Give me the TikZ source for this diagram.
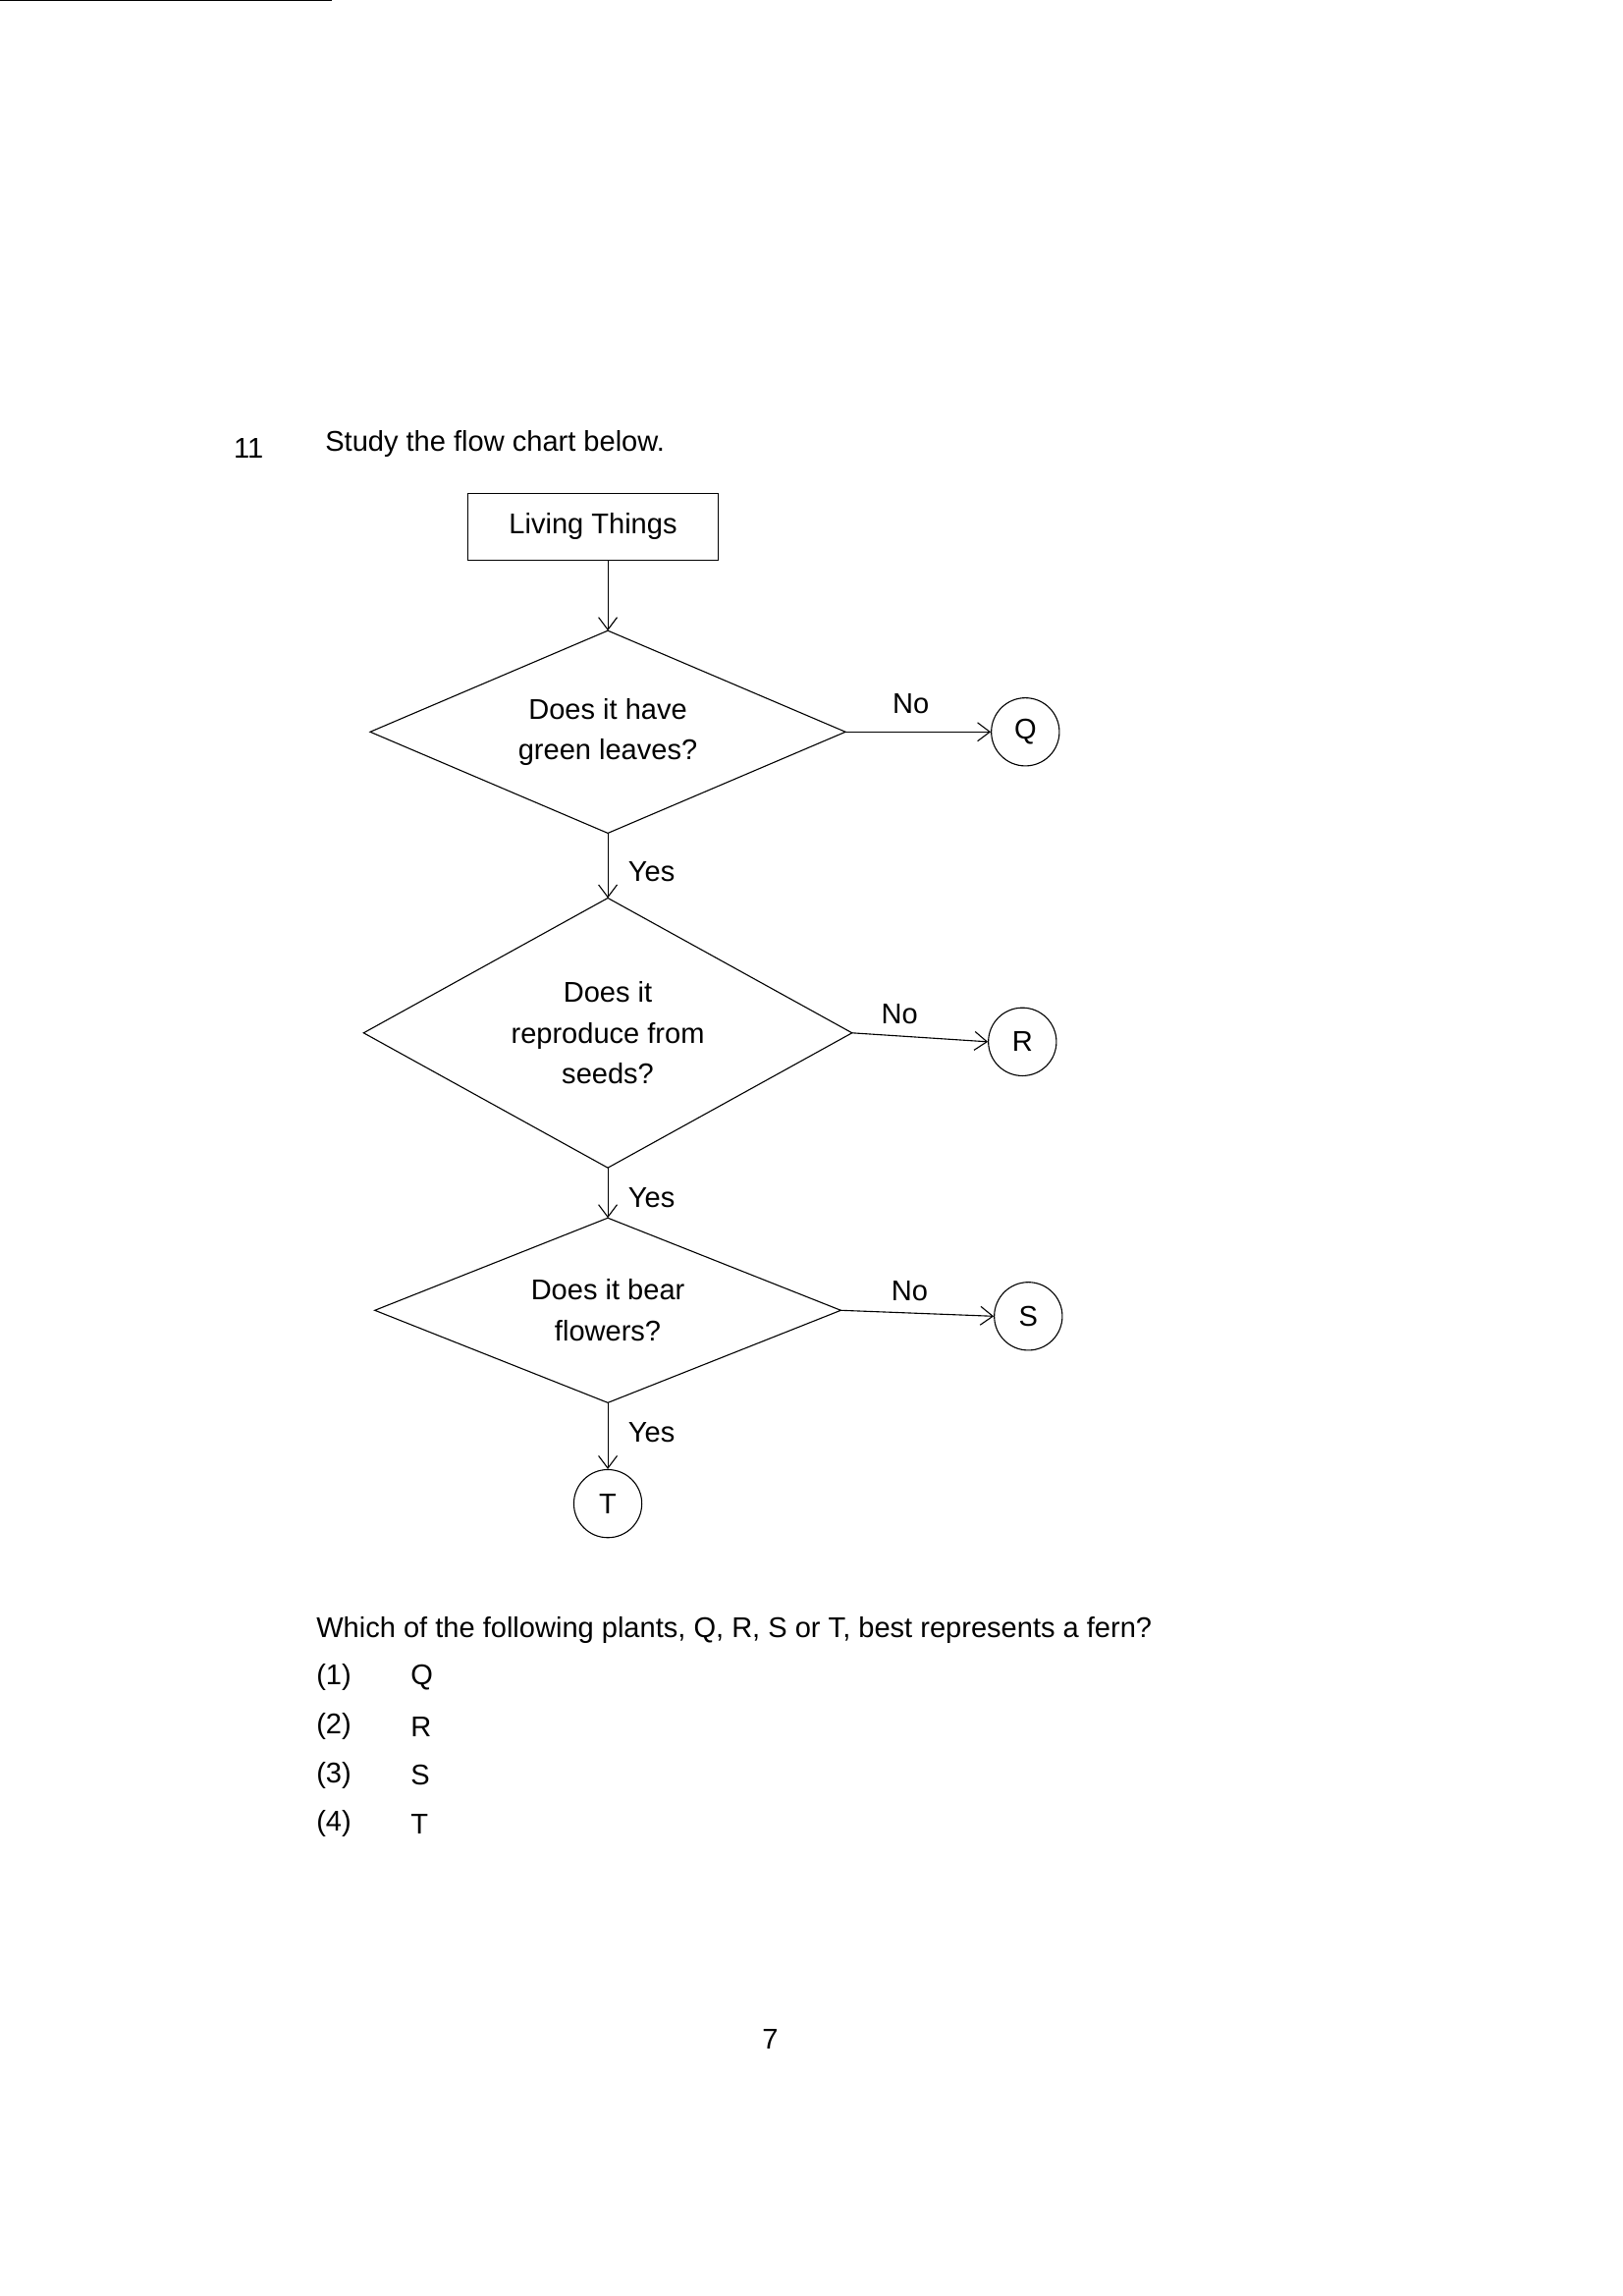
\documentclass[tikz,border=0pt]{standalone}
\usepackage{fontspec}
\setmainfont{Liberation Sans}
\usetikzlibrary{shapes.geometric,arrows.meta}
\tikzset{
    txt/.style={font=\fontsize{10.5}{15}\selectfont},
    question/.style={draw, diamond, inner sep=0pt, outer sep=0pt, align=center, txt},
    plant/.style={draw, circle, minimum size=0.88cm, inner sep=0pt, txt},
    link/.style={-{Straight Barb[length=1.6mm,width=2.4mm]}}
}
\begin{document}
\begin{tikzpicture}[x=0.01909cm, y=-0.01909cm]
        \useasboundingbox (0,0) rectangle (1100,1556);
        \draw[line width=1pt] (0,0) -- (225,0);
        \node[txt, anchor=west] (num) at (152,304) {11};
        \node[txt, anchor=west] (intro) at (214,301) {Study the flow chart below.};
        % flow chart
        \node[draw, txt, minimum width=3.23cm, minimum height=0.86cm] (living) at (402,357) {Living Things};
        \node[question, shape aspect=2.35, minimum width=6.15cm, minimum height=2.62cm] (leaves) at (412,496) {Does it have\\green leaves?};
        \node[question, shape aspect=1.81, minimum width=6.32cm, minimum height=3.49cm] (seeds) at (412,700) {Does it\\reproduce from\\seeds?};
        \node[question, shape aspect=2.53, minimum width=6.03cm, minimum height=2.39cm] (flowers) at (412,888) {Does it bear\\flowers?};
        \node[plant] (Q) at (695,496) {Q};
        \node[plant] (R) at (693,706) {R};
        \node[plant] (S) at (697,892) {S};
        \node[plant] (T) at (412,1019) {T};
        \draw[link] (living.south -| leaves.north) -- (leaves.north);
        \draw[link] (leaves.south) -- node[txt, pos=0.6, right=4pt] {Yes} (seeds.north);
        \draw[link] (seeds.south) -- node[txt, pos=0.6, right=4pt] {Yes} (flowers.north);
        \draw[link] (flowers.south) -- node[txt, pos=0.45, right=4pt] {Yes} (T);
        \draw[link] (leaves.east) -- node[txt, pos=0.45, above=3pt] {No} (Q.west);
        \draw[link] (seeds.east) -- node[txt, pos=0.35, above=1pt] {No} (R.west);
        \draw[link] (flowers.east) -- node[txt, pos=0.45, above=1pt] {No} (S.west);
        % question and options
        \node[txt, anchor=west] (ask) at (208,1105) {Which of the following plants, Q, R, S or T, best represents a fern?};
        \foreach \n/\p in {1/Q,2/R,3/S,4/T}
            {
                \node[txt, anchor=west] (opt\n) at (208,1104+33*\n) {(\n)};
                \node[txt, anchor=west] (ans\n) at (272,1104+33*\n) {\p};
            }
        \node[txt] (page) at (522,1382) {7};
\end{tikzpicture}
\end{document}
